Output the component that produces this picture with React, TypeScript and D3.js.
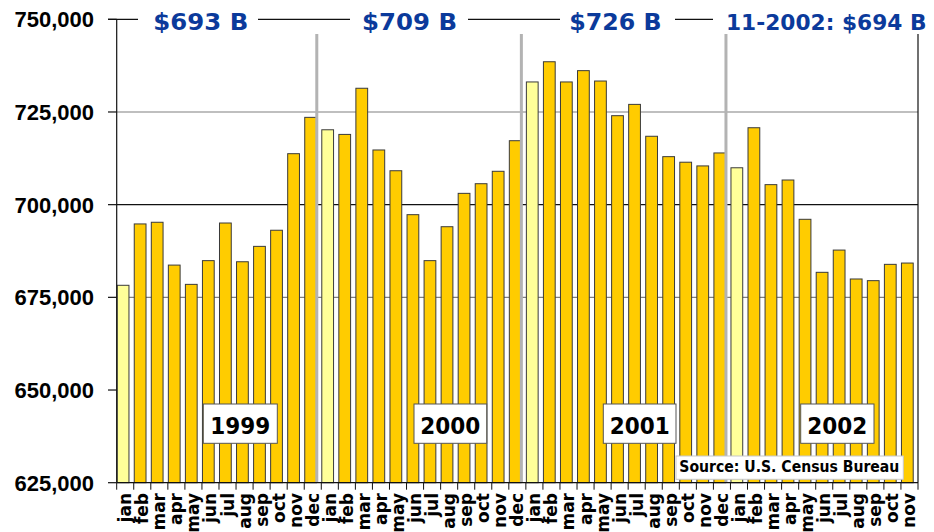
import React from "react";
import * as d3 from "d3";

const months = ["jan","feb","mar","apr","may","jun","jul","aug","sep","oct","nov","dec"];
const years = ["1999", "2000", "2001", "2002"];
const values1999 = [678250, 694800, 695250, 683700, 678500, 684900, 695050, 684600, 688750, 693100, 713750, 723550];
const values2000 = [720200, 718950, 731400, 714750, 709150, 697300, 684900, 694050, 703050, 705650, 709000, 717250];
const values2001 = [733100, 738550, 733100, 736150, 733350, 724000, 727050, 718450, 712950, 711450, 710450, 713950];
const values2002 = [709950, 720750, 705400, 706650, 696050, 681750, 687750, 679950, 679500, 683900, 684250];
const yTicks = [625000, 650000, 675000, 700000, 725000, 750000];
const gridValues = [675000, 700000, 725000];
const gridColors = ["#808080", "#111111", "#808080"];
const topLabels = ["$693 B", "$709 B", "$726 B", "11-2002: $694 B"];
const sourceText = "Source: U.S. Census Bureau";

const allValues = [...values1999, ...values2000, ...values2001, ...values2002];
const categories = allValues.map((_, i) => months[i % 12]);

export default function App() {
  const W = 934, H = 532;
  const left = 116.7, right = 918, top = 19.3, bottom = 482.7;
  const x = d3.scaleBand<number>().domain(d3.range(allValues.length)).range([left, right]).padding(0);
  const y = d3.scaleLinear().domain([625000, 750000]).range([bottom, top]);
  const bw = x.bandwidth();
  const fmt = d3.format(",");

  // top label geometry: [textStart, textEnd, maskStart, maskEnd, fontSize]
  const topGeo = [
    [153.3, 248.3, 138, 258, 23],
    [362, 457, 350, 468, 23],
    [569.3, 661.7, 560, 675, 23],
    [726, 926.5, 713, 934, 21.5],
  ];
  const yearBoxes = [
    [203.3, 277.3],
    [414, 486.7],
    [603.3, 676],
    [800.7, 874],
  ];

  return (
    <svg width={W} height={H} style={{ position: "absolute", left: 0, top: 0, background: "#fff" }}>
      <rect x={0} y={0} width={W} height={H} fill="#fff" />
      {gridValues.map((v, i) => (
        <line key={v} x1={left} x2={right} y1={y(v)} y2={y(v)} stroke={gridColors[i]} strokeWidth={1.2} />
      ))}
      <line x1={108} x2={right} y1={y(750000)} y2={y(750000)} stroke="#111" strokeWidth={1.2} />
      {allValues.map((v, i) => (
        <rect
          key={i}
          x={(x(i) as number) + 0.5}
          y={y(v)}
          width={bw * 0.69}
          height={bottom - y(v)}
          fill={i % 12 === 0 ? "#FFFF99" : "#FFCC00"}
          stroke="#3a3a3a"
          strokeWidth={1}
        />
      ))}
      {[12, 24, 36].map((i) => (
        <line key={i} x1={(x(i) as number) - 4.5} x2={(x(i) as number) - 4.5} y1={34} y2={bottom} stroke="#b3b3b3" strokeWidth={3} />
      ))}
      <line x1={left} x2={left} y1={top} y2={bottom} stroke="#111" strokeWidth={1.2} />
      <line x1={right} x2={right} y1={top} y2={bottom} stroke="#111" strokeWidth={1.2} />
      <line x1={left} x2={right} y1={bottom} y2={bottom} stroke="#111" strokeWidth={1.2} />
      {yTicks.map((v) => (
        <g key={v}>
          <line x1={108} x2={left} y1={y(v)} y2={y(v)} stroke="#111" strokeWidth={1.2} />
          <text x={94} y={y(v)} dy="0.36em" textAnchor="end" fontFamily="Liberation Sans, Arial, sans-serif" fontWeight="bold" fontSize={22} fill="#000">
            {fmt(v)}
          </text>
        </g>
      ))}
      {d3.range(allValues.length + 1).map((i) => {
        const xx = i < allValues.length ? (x(i) as number) : right;
        return <line key={i} x1={xx} x2={xx} y1={bottom} y2={bottom + 7} stroke="#111" strokeWidth={1} />;
      })}
      {categories.map((c, i) => {
        const cx = (x(i) as number) + bw / 2;
        return (
          <text key={i} transform={`translate(${cx},493) rotate(-90)`} textAnchor="end" dominantBaseline="central" fontFamily="DejaVu Sans, Verdana, sans-serif" fontWeight="bold" fontSize={17} fill="#000">
            {c}
          </text>
        );
      })}
      {topLabels.map((t, i) => {
        const g = topGeo[i];
        return (
          <g key={t}>
            <rect x={g[2]} y={0} width={g[3] - g[2]} height={34} fill="#fff" />
            <text x={g[0]} y={29.5} textLength={g[1] - g[0]} lengthAdjust="spacingAndGlyphs" fontFamily="DejaVu Sans, Verdana, sans-serif" fontWeight="bold" fontSize={g[4]} fill="#0b3a9b">
              {t}
            </text>
          </g>
        );
      })}
      {years.map((yr, i) => {
        const b = yearBoxes[i];
        const cx = (b[0] + b[1]) / 2;
        return (
          <g key={yr}>
            <rect x={b[0]} y={404} width={b[1] - b[0]} height={39.3} fill="#fff" stroke="#555" strokeWidth={1} />
            <text x={cx - 30} y={434} textLength={60} lengthAdjust="spacingAndGlyphs" fontFamily="DejaVu Sans, Verdana, sans-serif" fontWeight="bold" fontSize={23.5} fill="#000">
              {yr}
            </text>
          </g>
        );
      })}
      <rect x={676} y={456} width={227.3} height={23.3} fill="#fff" stroke="#c8c8c8" strokeWidth={1} />
      <text x={679.3} y={472.3} textLength={220} lengthAdjust="spacingAndGlyphs" fontFamily="DejaVu Sans, Verdana, sans-serif" fontWeight="bold" fontSize={16} fill="#000">
        {sourceText}
      </text>
    </svg>
  );
}
